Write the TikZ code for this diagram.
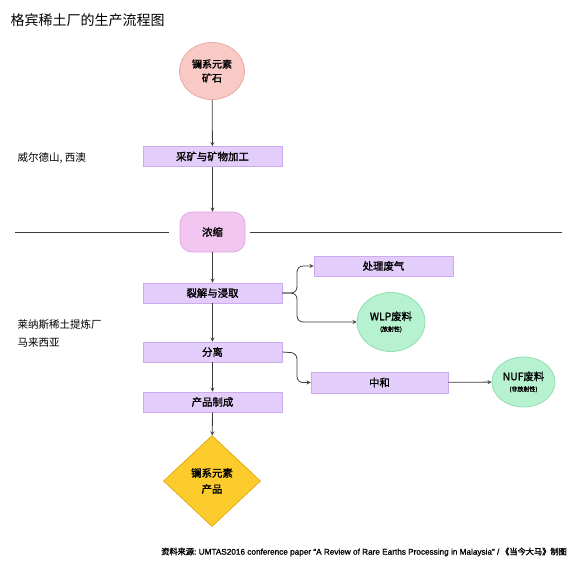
\documentclass[tikz,border=0pt]{standalone}
\usepackage{fontspec}
\setmainfont{Noto Sans CJK SC}
\newfontfamily\semibold{Noto Sans CJK SC}[FakeBold=1.6]
\newfontfamily\latinfont{Liberation Sans}[FakeBold=1.2]
\usetikzlibrary{shapes.geometric}

\definecolor{orefill}{HTML}{F9C9C5}
\definecolor{oredraw}{HTML}{E9AAA4}
\definecolor{boxfill}{HTML}{E3CDFA}
\definecolor{boxdraw}{HTML}{CBABEE}
\definecolor{concfill}{HTML}{F3C6F2}
\definecolor{concdraw}{HTML}{DFA6E2}
\definecolor{wastefill}{HTML}{B6F2D0}
\definecolor{wastedraw}{HTML}{92DDB3}
\definecolor{prodfill}{HTML}{FCCC2C}
\definecolor{proddraw}{HTML}{E2AC10}
\definecolor{linegray}{HTML}{3C3C3C}

\begin{document}
\begin{tikzpicture}[
    x=1pt, y=-1pt,
    >=stealth,
    stepbox/.style={
        draw=boxdraw,
        fill=boxfill,
        line width=0.8pt,
        minimum width=139pt,
        minimum height=20pt,
        inner sep=0pt,
        font=\fontsize{10.4}{12}\selectfont\semibold
    },
    oval/.style={
        ellipse,
        line width=0.8pt,
        inner sep=0pt,
        align=center
    },
    arr/.style={->, line width=0.8pt, draw=linegray},
    region/.style={anchor=west, font=\fontsize{10.5}{18}\selectfont, align=left}
]
    \useasboundingbox (0,0) rectangle (576,566);

    \node[anchor=west, font=\fontsize{14}{16}\selectfont] (title) at (7,20)
        {格宾稀土厂的生产流程图};

    % main column
    \node[oval, draw=oredraw, fill=orefill, minimum width=65pt, minimum height=57pt,
        font=\fontsize{10}{14}\selectfont\semibold] (ore) at (212,71)
        {镧系元素\\矿石};

    \node[stepbox] (mine) at (212.5,156.5) {采矿与矿物加工};

    \node[draw=concdraw, fill=concfill, line width=0.8pt, rounded corners=12pt,
        minimum width=65pt, minimum height=40pt, inner sep=0pt,
        font=\fontsize{10.4}{12}\selectfont\semibold] (conc) at (212.5,232)
        {浓缩};

    \node[stepbox] (crack) at (212.5,293) {裂解与浸取};
    \node[stepbox] (sep) at (212.5,352) {分离};
    \node[stepbox] (make) at (212.5,402) {产品制成};

    \node[diamond, draw=proddraw, fill=prodfill, line width=0.8pt, inner sep=0pt,
        minimum width=97pt, minimum height=91pt, align=center,
        font=\fontsize{10.4}{16}\selectfont\semibold] (product) at (212,481)
        {镧系元素\\产品};

    % side branches
    \node[stepbox] (gas) at (383.5,266) {处理废气};

    \node[oval, draw=wastedraw, fill=wastefill, minimum width=68pt, minimum height=59pt]
        (wlp) at (391,322)
        {{\fontsize{10.4}{12}\selectfont\semibold WLP废料}\\[-1pt]{\fontsize{6}{7}\selectfont\semibold (放射性)}};

    \node[stepbox, minimum width=137pt, minimum height=21pt] (neut) at (379.5,382.5) {中和};

    \node[oval, draw=wastedraw, fill=wastefill, minimum width=63pt, minimum height=50pt]
        (nuf) at (523.5,382)
        {{\fontsize{10.4}{12}\selectfont\semibold NUF废料}\\[-1pt]{\fontsize{6}{7}\selectfont\semibold (非放射性)}};

    % sites
    \node[region] (wa) at (14,158) {威尔德山, 西澳};
    \node[region] (lynas) at (14,333) {莱纳斯稀土提炼厂\\马来西亚};

    \coordinate (lineL) at (15,232);
    \coordinate (lineR) at (562,232);
    \draw[line width=0.8pt, draw=linegray] (lineL) -- ([xshift=-11pt]conc.west);
    \draw[line width=0.8pt, draw=linegray] ([xshift=5pt]conc.east) -- (lineR);

    \draw[arr] (ore) -- (mine);
    \draw[arr] (mine) -- (conc);
    \draw[arr] (conc) -- (crack);
    \draw[arr] (crack) -- (sep);
    \draw[arr] (sep) -- (make);
    \draw[arr] (make) -- (product);

    \coordinate (fork1) at (297,293);
    \coordinate (fork2) at (297,353);
    \draw[arr, rounded corners=6pt] (crack.east) -- (fork1) |- (gas.west);
    \draw[arr, rounded corners=6pt] (crack.east) -- (fork1) |- (wlp.west);
    \draw[arr, rounded corners=6pt] (sep.east) -- (fork2) |- (neut.west);
    \draw[arr] (neut) -- (nuf);

    \node[anchor=east, inner sep=0pt, font=\fontsize{8.2}{9}\selectfont\semibold] (source) at (567,552)
        {资料来源: {\latinfont UMTAS2016 conference paper “A Review of Rare Earths Processing in Malaysia” /} 《当今大马》制图};
\end{tikzpicture}
\end{document}
